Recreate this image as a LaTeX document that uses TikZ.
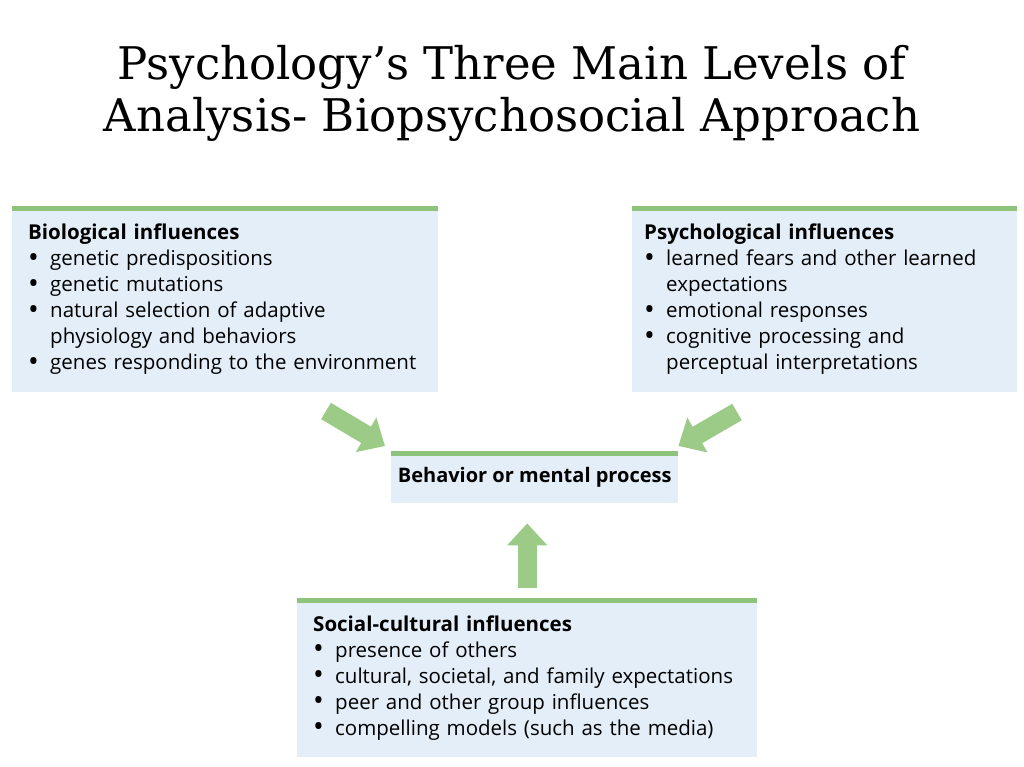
\documentclass[tikz,border=0pt]{standalone}
\usepackage{fontspec}
\usepackage{graphicx}
\setmainfont{DejaVu Serif}
\newfontfamily\boxfont{Open Sans}
\usetikzlibrary{arrows.meta,positioning}
\definecolor{barGreen}{RGB}{141,195,122}
\definecolor{arrowGreen}{RGB}{156,203,135}
\definecolor{boxBlue}{RGB}{228,238,248}
\newcommand{\bitem}{\par\noindent\hangindent=22pt\hangafter=1%
   \makebox[22pt][l]{\smash{\raisebox{-0.07em}{\scalebox{1.4}{\textbullet}}}}}
\begin{document}
\begin{tikzpicture}[x=1pt,y=-1pt,
   titlefont/.style={font=\fontsize{45}{52}\selectfont, anchor=base},
   infbox/.style={fill=boxBlue, anchor=north west, inner ysep=0pt,
                  font=\boxfont\fontsize{20.5}{26}\selectfont, align=left},
   greenbar/.style={draw=barGreen, line width=5pt},
   bigarrow/.style={draw=arrowGreen, line width=19pt,
                    -{Triangle[width=39pt,length=22pt]}}]

\useasboundingbox (0,0) rectangle (1024,767);

% title
\node[titlefont] (title1) at (512,80) {Psychology’s Three Main Levels of};
\node[titlefont] (title2) at (512,132) {Analysis- Biopsychosocial Approach};

% the four boxes
\node[infbox, inner xsep=16pt, text width=394pt, minimum height=186pt] (bio) at (12,206)
   {\textbf{Biological influences}
    \bitem genetic predispositions
    \bitem genetic mutations
    \bitem natural selection of adaptive\newline physiology and behaviors
    \bitem genes responding to the environment\par};
\node[infbox, inner xsep=12pt, text width=361pt, minimum height=186pt] (psy) at (632,206)
   {\textbf{Psychological influences}
    \bitem learned fears and other learned\newline expectations
    \bitem emotional responses
    \bitem cognitive processing and\newline perceptual interpretations\par};
\node[infbox, minimum width=287pt, minimum height=52pt, font=\boxfont\fontsize{20}{26}\selectfont] (beh) at (391,451)
   {\textbf{Behavior or mental process}};
\node[infbox, inner xsep=16pt, text width=428pt, minimum height=159pt] (soc) at (297,598)
   {\textbf{Social-cultural influences}
    \bitem presence of others
    \bitem cultural, societal, and family expectations
    \bitem peer and other group influences
    \bitem compelling models (such as the media)\par};

\foreach \n in {bio,psy,beh,soc}
   \draw[greenbar] ([yshift=-2.5pt]\n.north west) -- ([yshift=-2.5pt]\n.north east);

% arrows
\coordinate (biotail) at (326,411);
\coordinate (psytail) at (737,412);
\draw[bigarrow] (biotail) -- ([xshift=-6pt,yshift=5pt]beh.north west);
\draw[bigarrow] (psytail) -- ([yshift=5pt]beh.north east);
\draw[bigarrow, shorten <=10pt, shorten >=20pt] (soc.north) -- (soc.north |- beh.south);

\end{tikzpicture}
\end{document}
